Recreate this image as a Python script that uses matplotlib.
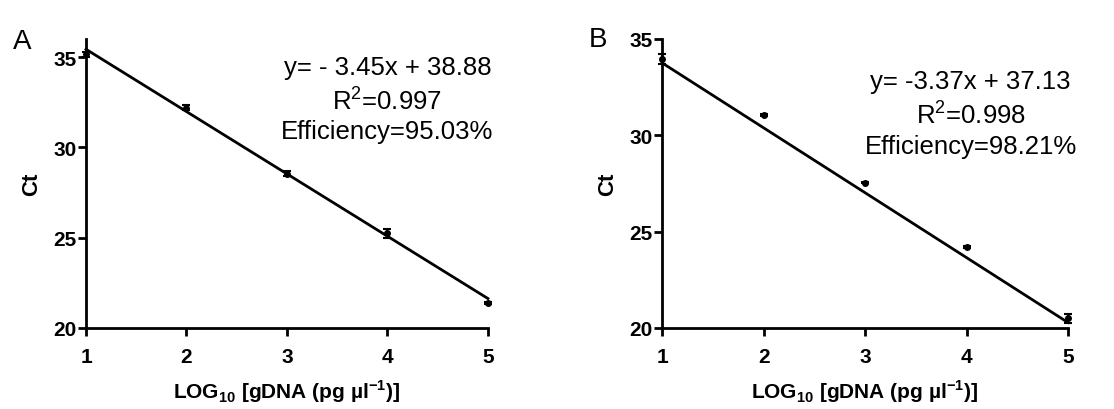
import numpy as np
import matplotlib.pyplot as plt

plt.rcParams['font.family'] = ['Liberation Sans', 'DejaVu Sans']
plt.rcParams['font.weight'] = 'bold'
plt.rcParams['mathtext.fontset'] = 'custom'
plt.rcParams['mathtext.rm'] = 'Liberation Sans:normal'
plt.rcParams['mathtext.bf'] = 'Liberation Sans:bold'

log_conc = [1, 2, 3, 4, 5]

# panel A: mean Ct and SD
ct_a = [35.15, 32.2, 28.55, 25.25, 21.4]
sd_a = [0.15, 0.15, 0.15, 0.25, 0.05]
slope_a, icept_a = -3.45, 38.88
r2_a, eff_a = 0.997, 95.03

# panel B
ct_b = [33.95, 31.05, 27.55, 24.2, 20.5]
sd_b = [0.25, 0.05, 0.05, 0.05, 0.25]
slope_b, icept_b = -3.37, 37.13
r2_b, eff_b = 0.998, 98.21

fig = plt.figure(figsize=(11.14, 4.10), dpi=100)
ax_a = fig.add_axes([0.0772, 0.1976, 0.3608, 0.7049])
ax_b = fig.add_axes([0.5943, 0.1976, 0.3645, 0.7049])


def draw_panel(ax, ct, sd, slope, icept, r2, eff, ylim, eq, txt_xy):
    x = np.array(log_conc)
    ax.errorbar(x, ct, yerr=sd, fmt='o', color='black', ms=4, capsize=3,
                elinewidth=1.5, capthick=1.5, clip_on=False, zorder=3)
    xs = np.array([x.min(), x.max()])
    ax.plot(xs, slope * xs + icept, color='black', lw=2, clip_on=False)
    ax.set_xlim(1, 5)
    ax.set_ylim(*ylim)
    ax.set_xticks(log_conc)
    ax.set_yticks([20, 25, 30, 35])
    for s in ['top', 'right']:
        ax.spines[s].set_visible(False)
    for s in ['left', 'bottom']:
        ax.spines[s].set_linewidth(2)
    ax.tick_params(axis='both', width=2, length=6, labelsize=15)
    ax.tick_params(axis='x', pad=8)
    ax.tick_params(axis='y', pad=1)
    ax.set_ylabel('Ct', fontsize=16, fontweight='bold', labelpad=8)
    ax.set_xlabel(r'LOG$_{\mathbf{10}}$ [gDNA (pg µl$^{\mathbf{-1}}$)]',
                  fontsize=15, fontweight='bold', labelpad=8)
    ax.text(txt_xy[0], txt_xy[1],
            eq + '\n' + r'R$^{\mathrm{2}}$=%.3f' % r2 + '\n'
            + 'Efficiency=%.2f%%' % eff,
            transform=ax.transAxes, ha='center', va='top', fontsize=18.5,
            fontweight='normal', linespacing=1.3)


draw_panel(ax_a, ct_a, sd_a, slope_a, icept_a, r2_a, eff_a, (20, 36),
           'y= - %.2fx + %.2f' % (-slope_a, icept_a), (0.75, 0.945))
draw_panel(ax_b, ct_b, sd_b, slope_b, icept_b, r2_b, eff_b, (20, 35),
           'y= -%.2fx + %.2f' % (-slope_b, icept_b), (0.76, 0.895))

fig.text(0.0197, 0.897, 'A', fontsize=20, fontweight='normal',
         va='center', ha='center')
fig.text(0.537, 0.902, 'B', fontsize=20, fontweight='normal',
         va='center', ha='center')

fig.savefig('out.png', dpi=100)
